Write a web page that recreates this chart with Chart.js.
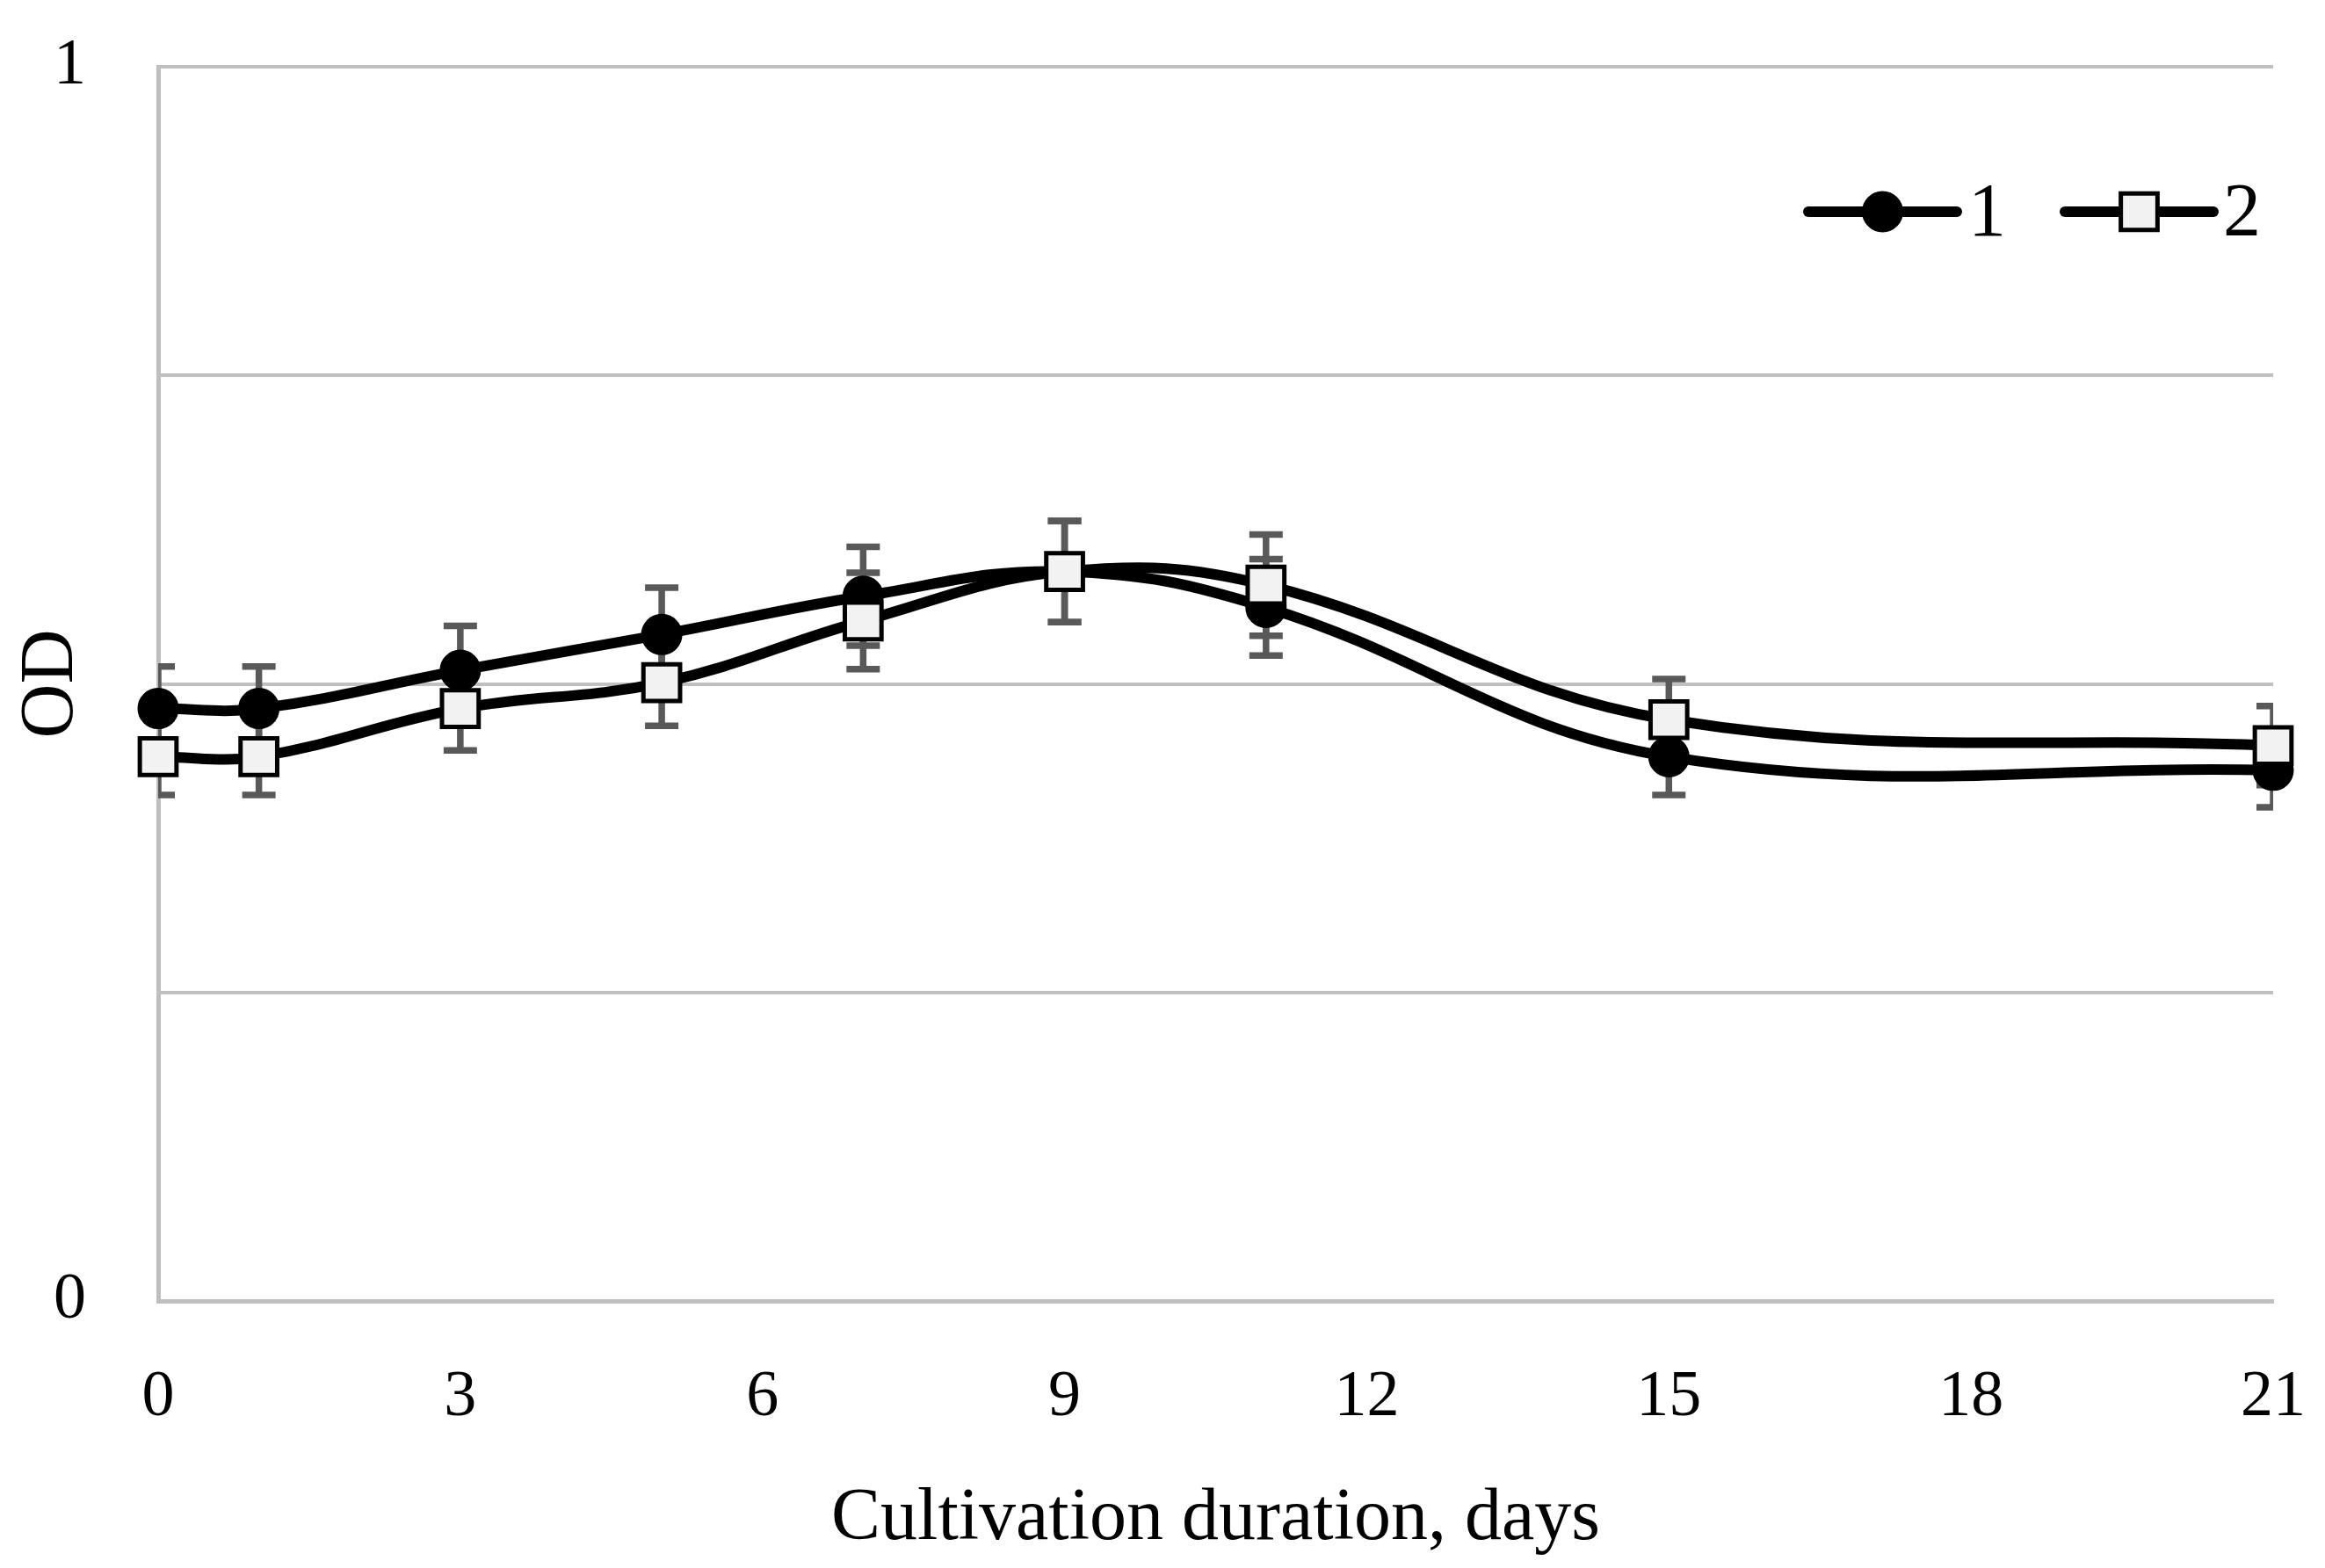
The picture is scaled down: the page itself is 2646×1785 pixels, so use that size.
<!DOCTYPE html>
<html><head><meta charset="utf-8">
<script src="https://cdn.jsdelivr.net/npm/chart.js@4.4.0/dist/chart.umd.min.js"></script>
<style>html,body{margin:0;padding:0;background:#fff;overflow:hidden}#wrap{width:2646px;height:1785px}</style>
</head><body><div id="wrap"><canvas id="c" width="2646" height="1785"></canvas></div>
<script>
// ---- data ----
const days = [0, 1, 3, 5, 7, 9, 11, 15, 21];
const series1 = [0.480, 0.480, 0.511, 0.540, 0.571, 0.591, 0.562, 0.441, 0.430];
const series2 = [0.441, 0.441, 0.480, 0.501, 0.551, 0.591, 0.580, 0.471, 0.450];
const err1 = [0.034, 0.034, 0.036, 0.038, 0.040, 0.041, 0.039, 0.031, 0.030];
const err2 = [0.031, 0.031, 0.034, 0.035, 0.039, 0.041, 0.041, 0.033, 0.032];
const seriesLabels = ['1', '2'];
const xTickValues = [0, 3, 6, 9, 12, 15, 18, 21];
const yTickLabels = [0, 1];
const xTitle = 'Cultivation duration, days';
const yTitle = 'OD';

const FONT = '"Liberation Serif", "Times New Roman", serif';

const errorBarPlugin = {
  id: 'errorBars',
  beforeDatasetsDraw(chart) {
    const {ctx, chartArea, scales: {x, y}} = chart;
    const errs = [err1, err2];
    ctx.save();
    ctx.beginPath();
    ctx.rect(chartArea.left, chartArea.top, chartArea.right - chartArea.left, chartArea.bottom - chartArea.top);
    ctx.clip();
    ctx.strokeStyle = '#595959';
    ctx.lineWidth = 7.5;
    ctx.lineCap = 'butt';
    chart.data.datasets.forEach((ds, i) => {
      ds.data.forEach((p, j) => {
        const e = errs[i][j];
        const px = x.getPixelForValue(p.x);
        const yt = y.getPixelForValue(p.y + e);
        const yb = y.getPixelForValue(p.y - e);
        const cw = 19;
        ctx.beginPath();
        ctx.moveTo(px, yt); ctx.lineTo(px, yb);
        ctx.moveTo(px - cw, yt); ctx.lineTo(px + cw, yt);
        ctx.moveTo(px - cw, yb); ctx.lineTo(px + cw, yb);
        ctx.stroke();
      });
    });
    ctx.restore();
  }
};

const legendPlugin = {
  id: 'customLegend',
  afterDraw(chart) {
    const {ctx} = chart;
    const items = [
      {x0: 2058, x1: 2227, tx: 2240},
      {x0: 2350, x1: 2519, tx: 2530}
    ];
    const yc = 241;
    chart.data.datasets.forEach((ds, i) => {
      const it = items[i];
      ctx.save();
      ctx.strokeStyle = ds.borderColor;
      ctx.lineWidth = ds.borderWidth;
      ctx.lineCap = 'round';
      ctx.beginPath();
      ctx.moveTo(it.x0, yc); ctx.lineTo(it.x1, yc);
      ctx.stroke();
      ctx.fillStyle = ds.pointBackgroundColor;
      ctx.strokeStyle = ds.pointBorderColor;
      ctx.lineWidth = ds.pointBorderWidth;
      Chart.helpers.drawPoint(ctx, {pointStyle: ds.pointStyle, radius: ds.pointRadius, borderWidth: ds.pointBorderWidth, rotation: 0}, (it.x0 + it.x1) / 2, yc);
      ctx.fillStyle = '#000';
      ctx.font = '86px ' + FONT;
      ctx.textAlign = 'left';
      ctx.textBaseline = 'middle';
      ctx.fillText(ds.label, it.tx, yc + 4);
      ctx.restore();
    });
  }
};

new Chart(document.getElementById('c'), {
  type: 'line',
  data: {
    datasets: [
      {
        label: seriesLabels[0],
        data: days.map((d, i) => ({x: d, y: series1[i]})),
        borderColor: '#000', borderWidth: 12, tension: 0.4,
        pointStyle: 'circle', pointRadius: 22, pointBorderWidth: 3,
        pointBackgroundColor: '#000', pointBorderColor: '#000',
        clip: false, order: 1
      },
      {
        label: seriesLabels[1],
        data: days.map((d, i) => ({x: d, y: series2[i]})),
        borderColor: '#000', borderWidth: 12, tension: 0.4,
        pointStyle: 'rect', pointRadius: 29.5, pointBorderWidth: 5,
        pointBackgroundColor: '#f2f2f2', pointBorderColor: '#000',
        clip: false, order: 0
      }
    ]
  },
  options: {
    responsive: false, devicePixelRatio: 1, animation: false,
    layout: {padding: {top: 76, right: 59, left: 0, bottom: 0}},
    plugins: {legend: {display: false}, tooltip: {enabled: false}},
    scales: {
      x: {
        type: 'linear', min: 0, max: 21,
        afterBuildTicks: s => { s.ticks = xTickValues.map(v => ({value: v})); },
        afterFit: s => { s.height = 304; s.paddingLeft = 0; s.paddingRight = 0; },
        ticks: {color: '#000', font: {family: FONT, size: 74}, padding: 58, maxRotation: 0, autoSkip: false},
        grid: {display: false},
        border: {display: true, color: '#bfbfbf', width: 5},
        title: {display: true, text: xTitle, color: '#000', font: {family: FONT, size: 84}, padding: {top: 0, bottom: 5}}
      },
      y: {
        min: 0, max: 1,
        ticks: {stepSize: 0.25, color: '#000', font: {family: FONT, size: 74}, padding: 82,
          callback: v => yTickLabels.includes(v) ? String(v) : ''},
        afterFit: s => { s.width = 180; s.paddingTop = 0; s.paddingBottom = 0; },
        grid: {color: '#c0c0c0', lineWidth: 4, drawTicks: false},
        border: {display: true, color: '#bfbfbf', width: 5},
        title: {display: true, text: yTitle, color: '#000', font: {family: FONT, size: 86}, padding: {top: 8, bottom: 0}}
      }
    }
  },
  plugins: [errorBarPlugin, legendPlugin]
});
</script></body></html>
